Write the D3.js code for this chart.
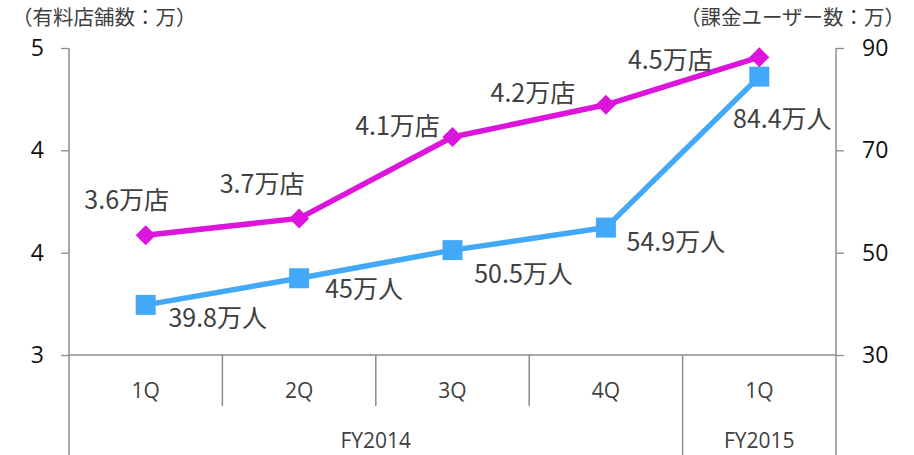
<!DOCTYPE html>
<html>
<head>
<meta charset="utf-8">
<script src="https://cdn.jsdelivr.net/npm/d3@7"></script>
<style>
  html, body { margin: 0; padding: 0; background: #fff; }
  svg { display: block; font-family: "Noto Sans CJK JP", "Noto Sans", sans-serif; }
</style>
</head>
<body>
<svg id="chart" width="914" height="455"></svg>
<script>
// ---- data ----
const quarters = ["1Q", "2Q", "3Q", "4Q", "1Q"];
const fiscalYears = [
  { name: "FY2014", span: 4 },
  { name: "FY2015", span: 1 }
];
const storeValues = [3.78, 3.89, 4.42, 4.63, 4.94];
const storeLabels = ["3.6万店", "3.7万店", "4.1万店", "4.2万店", "4.5万店"];
// paying users (万) on the right axis
const userValues = [39.8, 45, 50.5, 54.9, 84.4];
const userLabels = ["39.8万人", "45万人", "50.5万人", "54.9万人", "84.4万人"];
const leftTicks = [3, 3 + 2 / 3, 3 + 4 / 3, 5];
const rightTicks = [30, 50, 70, 90];
const leftTitle = "（有料店舗数：万）";
const rightTitle = "（課金ユーザー数：万）";

// ---- layout ----
const W = 914, H = 455;
const pLeft = 69, pRight = 836, pTop = 48, pBottom = 355;
const storeColor = "#DC14DC", userColor = "#42A8F8";
const axisColor = "#8c8c8c", textColor = "#404040";
// label offsets (center x, baseline) relative to the point
const storeLabelOffsets = [[-19, -26], [-37, -25], [-55, -2], [-73, -3], [-89, 12]];
const userLabelOffsets = [[72, 22], [65, 20], [71, 33], [70, 23], [23, 51]];

const svg = d3.select("#chart");
const idx = quarters.map((q, i) => i);
const x = d3.scaleBand().domain(idx).range([pLeft, pRight]).padding(0);
const cx = i => x(i) + x.bandwidth() / 2;
const yL = d3.scaleLinear().domain([3, 5]).range([pBottom, pTop]);
const yR = d3.scaleLinear().domain([30, 90]).range([pBottom, pTop]);

// left axis
const gL = svg.append("g").attr("transform", `translate(${pLeft},0)`)
  .call(d3.axisLeft(yL).tickValues(leftTicks).tickFormat(d3.format(".0f")).tickSize(8).tickPadding(17));
gL.select(".domain").remove();
gL.selectAll(".tick line").attr("stroke", axisColor).attr("stroke-width", 1.3);
gL.selectAll(".tick text").attr("fill", "#111").style("font-size", "23px")
  .style("font-family", "'Open Sans', 'Noto Sans', sans-serif");

// right axis
const gR = svg.append("g").attr("transform", `translate(${pRight},0)`)
  .call(d3.axisRight(yR).tickValues(rightTicks).tickSize(8).tickPadding(18));
gR.select(".domain").remove();
gR.selectAll(".tick line").attr("stroke", axisColor).attr("stroke-width", 1.3);
gR.selectAll(".tick text").attr("fill", "#111").style("font-size", "23px")
  .style("font-family", "'Open Sans', 'Noto Sans', sans-serif");

// vertical axis lines (down to the bottom of category area)
svg.append("line").attr("x1", pLeft).attr("x2", pLeft).attr("y1", pTop).attr("y2", H)
  .attr("stroke", axisColor).attr("stroke-width", 1.5);
svg.append("line").attr("x1", pRight).attr("x2", pRight).attr("y1", pTop).attr("y2", H)
  .attr("stroke", axisColor).attr("stroke-width", 1.5);
// bottom axis line
svg.append("line").attr("x1", pLeft).attr("x2", pRight).attr("y1", pBottom).attr("y2", pBottom)
  .attr("stroke", axisColor).attr("stroke-width", 1.5);

// category dividers
let start = 0;
const yearBounds = [];
fiscalYears.forEach(fy => { yearBounds.push([start, start + fy.span]); start += fy.span; });
idx.slice(1).forEach(i => {
  const isYear = yearBounds.some(b => b[0] === i);
  svg.append("line").attr("x1", x(i)).attr("x2", x(i))
    .attr("y1", pBottom).attr("y2", isYear ? H : 406)
    .attr("stroke", axisColor).attr("stroke-width", 1.5);
});

// category labels
svg.append("g").selectAll("text").data(idx).join("text")
  .attr("x", i => cx(i)).attr("y", 398).attr("text-anchor", "middle")
  .attr("fill", textColor).style("font-size", "21px")
  .style("font-family", "'Open Sans', 'Noto Sans', sans-serif")
  .text(i => quarters[i]);
svg.append("g").selectAll("text").data(fiscalYears).join("text")
  .attr("x", (d, k) => (x(yearBounds[k][0]) + x(yearBounds[k][1] - 1) + x.bandwidth()) / 2)
  .attr("y", 448).attr("text-anchor", "middle")
  .attr("fill", textColor).style("font-size", "21px")
  .style("font-family", "'Open Sans', 'Noto Sans', sans-serif")
  .text(d => d.name);

// titles
svg.append("text").attr("x", 12).attr("y", 25).attr("fill", textColor)
  .style("font-size", "20.5px").text(leftTitle);
svg.append("text").attr("x", 905).attr("y", 25).attr("text-anchor", "end").attr("fill", textColor)
  .style("font-size", "20.5px").text(rightTitle);

// lines
const storeLine = d3.line().x((d, i) => cx(i)).y(d => yL(d));
const userLine = d3.line().x((d, i) => cx(i)).y(d => yR(d));
svg.append("path").datum(userValues).attr("d", userLine)
  .attr("fill", "none").attr("stroke", userColor).attr("stroke-width", 5.5).attr("stroke-linejoin", "round");
svg.append("path").datum(storeValues).attr("d", storeLine)
  .attr("fill", "none").attr("stroke", storeColor).attr("stroke-width", 5.5).attr("stroke-linejoin", "round");

// markers
svg.append("g").selectAll("rect").data(userValues).join("rect")
  .attr("x", (d, i) => cx(i) - 10).attr("y", d => yR(d) - 10)
  .attr("width", 20).attr("height", 20).attr("fill", userColor);
const diamond = d3.symbol().type(d3.symbolSquare).size(200);
svg.append("g").selectAll("path").data(storeValues).join("path")
  .attr("d", diamond)
  .attr("transform", (d, i) => `translate(${cx(i)},${yL(d)}) rotate(45)`)
  .attr("fill", storeColor);

// data labels
svg.append("g").selectAll("text").data(storeLabels).join("text")
  .attr("x", (d, i) => cx(i) + storeLabelOffsets[i][0])
  .attr("y", (d, i) => yL(storeValues[i]) + storeLabelOffsets[i][1])
  .attr("text-anchor", "middle").attr("fill", textColor).style("font-size", "25px")
  .text(d => d);
svg.append("g").selectAll("text").data(userLabels).join("text")
  .attr("x", (d, i) => cx(i) + userLabelOffsets[i][0])
  .attr("y", (d, i) => yR(userValues[i]) + userLabelOffsets[i][1])
  .attr("text-anchor", "middle").attr("fill", textColor).style("font-size", "25px")
  .text(d => d);
</script>
</body>
</html>
